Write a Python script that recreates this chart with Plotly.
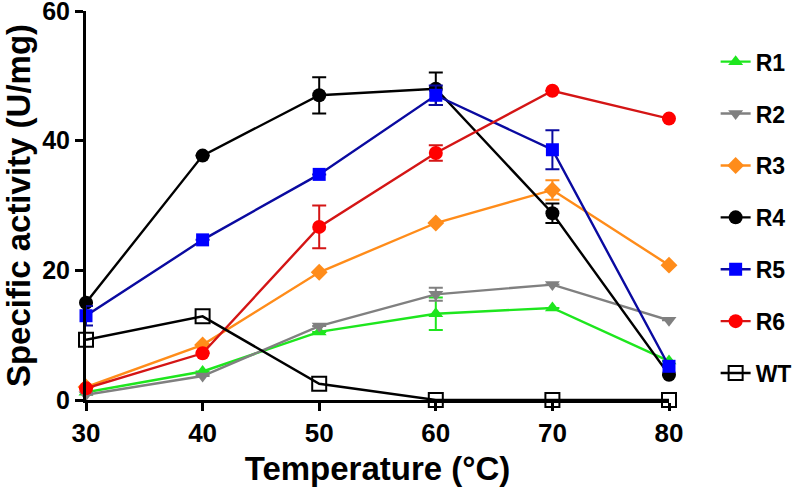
import plotly.graph_objects as go

temps = [30, 40, 50, 60, 70, 80]

r1 = [1.2, 4.4, 10.5, 13.3, 14.2, 6.0]
r1_err = [None, None, None, 2.5, None, None]
r2 = [0.8, 3.7, 11.4, 16.3, 17.8, 12.3]
r2_err = [None, None, None, 1.0, None, None]
r3 = [2.0, 8.5, 19.7, 27.3, 32.4, 20.8]
r3_err = [None, None, None, None, 1.5, None]
r4 = [15.0, 37.7, 47.0, 48.0, 28.8, 3.9]
r4_err = [None, None, 2.8, 2.5, 1.5, None]
r5 = [13.0, 24.7, 34.8, 47.0, 38.6, 5.2]
r5_err = [1.5, None, None, 1.5, 3.0, None]
r6 = [1.8, 7.2, 26.7, 38.1, 47.7, 43.4]
r6_err = [None, None, 3.3, 1.2, None, None]
wt = [9.3, 12.9, 2.5, 0.0, 0.0, 0.0]

series = [
    ("R1", r1, r1_err, "#1ee61e", "#1ee61e", "triangle-up", 13),
    ("R2", r2, r2_err, "#808080", "#808080", "triangle-down", 13),
    ("R3", r3, r3_err, "#ff8c1a", "#ff8c1a", "diamond", 13),
    ("R4", r4, r4_err, "#000000", "#000000", "circle", 14),
    ("R5", r5, r5_err, "#0000ff", "#0a0aa0", "square", 13),
    ("R6", r6, r6_err, "#ff0000", "#d41515", "circle", 14),
    ("WT", wt, None, "#000000", "#000000", "square-open", 14),
]

fig = go.Figure()
for name, ys, err, mcol, lcol, sym, size in series:
    kw = {}
    if err is not None:
        kw["error_y"] = dict(type="data", array=err, visible=True,
                             color=lcol, thickness=2, width=7)
    fig.add_trace(go.Scatter(
        x=temps, y=ys, name=name, mode="lines+markers",
        line=dict(color=lcol, width=2.4),
        marker=dict(symbol=sym, size=size, color=mcol,
                    line=dict(width=2 if sym == "square-open" else 0, color=mcol)),
        cliponaxis=False, legendgroup=name, **kw))

font_bold = "Liberation Sans, Arial, sans-serif"
fig.update_layout(
    width=794, height=487, autosize=False,
    margin=dict(l=86, r=125, t=11, b=87, autoexpand=False),
    plot_bgcolor="white", paper_bgcolor="white",
    font=dict(family=font_bold, color="black"),
    showlegend=True,
    legend=dict(x=1.08, xanchor="left", y=0.925, yanchor="top",
                font=dict(size=23, family=font_bold, weight="bold"),
                tracegroupgap=19, bgcolor="rgba(0,0,0,0)"),
    xaxis=dict(range=[30, 80], tickvals=[30, 40, 50, 60, 70, 80],
               showline=True, linecolor="black", linewidth=3,
               ticks="outside", ticklen=8, tickwidth=3, tickcolor="black",
               showgrid=False, zeroline=False, automargin=False,
               ticklabeloverflow="allow",
               tickfont=dict(size=26, weight="bold"),
               title=dict(text="Temperature (°C)", font=dict(size=33, weight="bold"), standoff=13)),
    yaxis=dict(range=[0, 60], tickvals=[0, 20, 40, 60],
               showline=True, linecolor="black", linewidth=3,
               ticks="outside", ticklen=8, tickwidth=3, tickcolor="black",
               showgrid=False, zeroline=False, automargin=False,
               ticklabeloverflow="allow",
               tickfont=dict(size=25, weight="bold"),
               title=dict(text="Specific activity (U/mg)", font=dict(size=33, weight="bold"), standoff=10)),
)

post = ("document.body.style.margin='0px';"
        "document.body.style.overflow='hidden';")
fig.write_html("out.html",
               config={"displayModeBar": False, "responsive": False},
               post_script=post)
